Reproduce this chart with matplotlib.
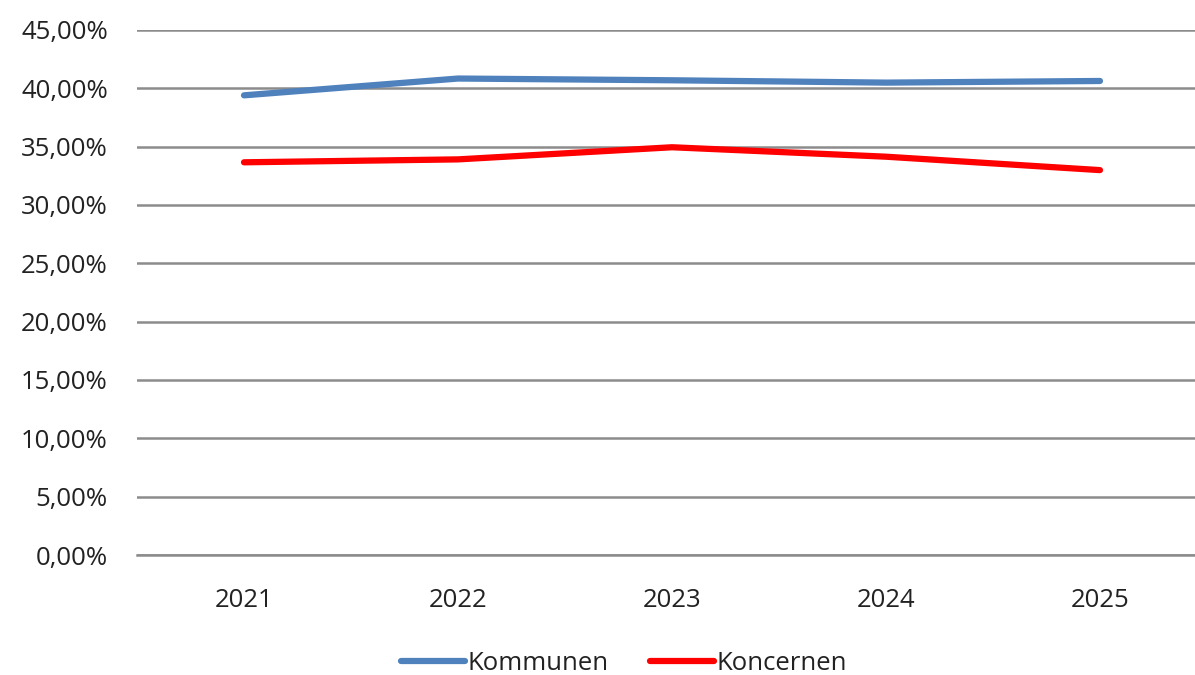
import matplotlib
matplotlib.use("Agg")
import matplotlib.pyplot as plt
from matplotlib.ticker import FuncFormatter

years = ["2021", "2022", "2023", "2024", "2025"]
kommunen = [39.40, 40.84, 40.69, 40.49, 40.63]
koncernen = [33.66, 33.91, 34.95, 34.14, 32.99]
yticks = [0, 5, 10, 15, 20, 25, 30, 35, 40, 45]

plt.rcParams['font.family'] = ['Open Sans', 'DejaVu Sans']

fig = plt.figure(figsize=(11.95, 6.75), dpi=100)
ax = fig.add_axes([137/1195, 1 - 555/675, (1195 - 137)/1195, (555 - 30)/675])

x = list(range(len(years)))
ax.plot(x, kommunen, color="#4F81BD", lw=4.5, solid_capstyle="round", label="Kommunen", zorder=3)
ax.plot(x, koncernen, color="#FF0000", lw=4.5, solid_capstyle="round", label="Koncernen", zorder=3)

ax.set_ylim(0, 45)
ax.set_xlim(-0.5, 4.444)
ax.set_yticks(yticks)
ax.yaxis.set_major_formatter(FuncFormatter(lambda v, p: f"{v:.2f}".replace(".", ",") + "%"))
ax.set_xticks(x)
ax.set_xticklabels(years)
ax.grid(axis="y", color="#8C8C8C", lw=1.8)
ax.set_axisbelow(True)
for s in ax.spines.values():
    s.set_visible(False)
ax.spines["bottom"].set_visible(True)
ax.spines["bottom"].set_color("#8C8C8C")
ax.spines["bottom"].set_linewidth(1.8)
ax.tick_params(axis="both", length=0, labelsize=18.5, colors="#222222")
ax.tick_params(axis="y", pad=21)
ax.tick_params(axis="x", pad=24)

leg = fig.legend(loc="center", bbox_to_anchor=(0.522, 1 - 663/675), ncol=2, frameon=False,
                 fontsize=18.5, handlelength=2.5, handletextpad=0.1, columnspacing=1.6)
for t in leg.get_texts():
    t.set_color("#222222")

fig.savefig("out.png", dpi=100)
